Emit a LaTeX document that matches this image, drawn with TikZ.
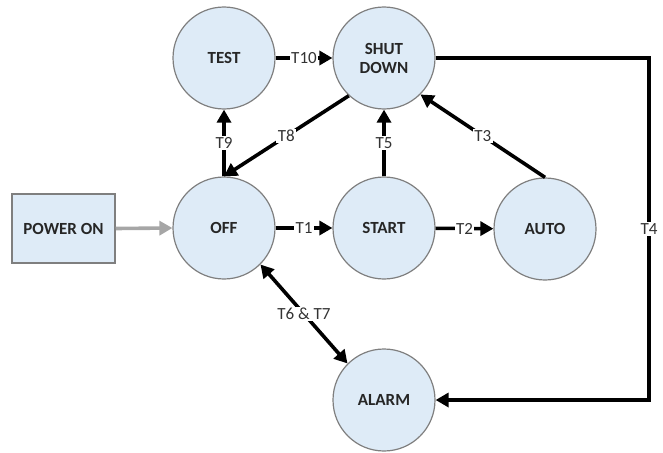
\documentclass[tikz,border=0pt]{standalone}
\usepackage{fontspec}
\setmainfont{Carlito}
\usetikzlibrary{arrows.meta}
\definecolor{statefill}{HTML}{DEEBF7}
\definecolor{stateline}{HTML}{7F7F7F}
\definecolor{feedgray}{HTML}{A6A6A6}
\tikzset{
  state/.style={circle, draw=stateline, line width=1.2pt, fill=statefill,
    minimum size=102pt, inner sep=0pt, align=center,
    font=\fontsize{17}{19}\selectfont\bfseries, text=black!85},
  srcbox/.style={rectangle, draw=stateline, line width=1.5pt, fill=statefill,
    minimum width=103pt, minimum height=69pt, inner sep=0pt,
    font=\fontsize{17}{19}\selectfont\bfseries, text=black!85},
  conn/.style={line width=3.6pt, -{Triangle[length=13pt,width=14pt]}},
  bothconn/.style={line width=3.6pt, {Triangle[length=13pt,width=14pt]}-{Triangle[length=13pt,width=14pt]}},
  feed/.style={draw=feedgray, line width=3.6pt, -{Triangle[length=13pt,width=14pt]}},
  lbl/.style={fill=white, inner sep=1.5pt, font=\fontsize{17}{19}\selectfont, text=black!80}
}
\begin{document}
\begin{tikzpicture}[x=1pt,y=-1pt]
\useasboundingbox (0,0) rectangle (663,452);
% states
\node[state] (test)  at (224,58)  {TEST};
\node[state] (sd)    at (384,58)  {SHUT\\DOWN};
\node[state] (off)   at (224,228) {OFF};
\node[state] (start) at (384,228) {START};
\node[state] (auto)  at (545,229) {AUTO};
\node[state] (alarm) at (384,400) {ALARM};
\node[srcbox] (pwr)  at (63.5,228.5) {POWER ON};
% power-on entry
\draw[feed] (pwr.east) -- (off.west);
% transitions
\draw[conn] (off) -- node[lbl] {T1} (start);
\draw[conn] (start) -- node[lbl] {T2} (auto);
\draw[conn] (auto.north) -- node[lbl] {T3} (sd.-45);
\draw[conn] (start) -- node[lbl] {T5} (sd);
\draw[conn] (sd.227) -- node[lbl] {T8} (off.north);
\draw[conn] (off) -- node[lbl] {T9} (test);
\draw[conn] (test) -- node[lbl] {T10} (sd);
\draw[bothconn] (off.-45) -- node[lbl] {T6 \& T7} (alarm.135);
\coordinate (t4top) at (649,58);
\draw[conn] (sd.east) -- (t4top) -- node[lbl] {T4} (t4top |- alarm.east) -- (alarm.east);
\end{tikzpicture}
\end{document}
